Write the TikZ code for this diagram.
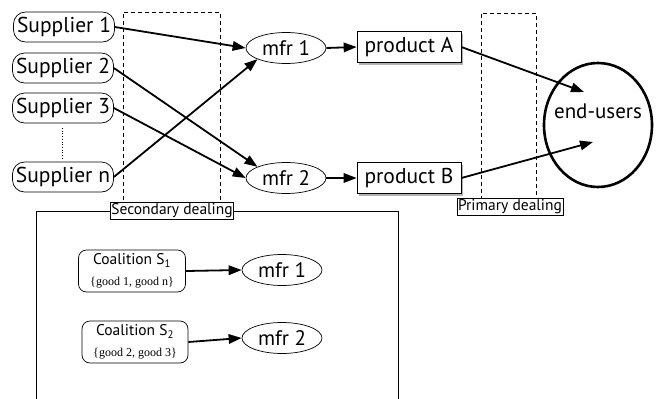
\documentclass[tikz,border=0pt]{standalone}
\usepackage{fontspec}
\setmainfont{PT Sans}
\newfontfamily\serifgood{Liberation Serif}
\usetikzlibrary{shapes.geometric,arrows.meta,shadows}
\begin{document}
\begin{tikzpicture}[x=1pt,y=-1pt,
  every node/.style={inner sep=0pt},
  supp/.style={draw,line width=0.7pt,rounded corners=12pt,minimum width=101pt,minimum height=30pt,font=\fontsize{21.5}{22}\selectfont},
  mfr/.style={draw,line width=0.7pt,ellipse,minimum width=80pt,minimum height=31pt,font=\fontsize{21}{22}\selectfont},
  prod/.style={draw,line width=0.7pt,fill=white,minimum width=104pt,minimum height=31pt,font=\fontsize{21.5}{22}\selectfont,
     drop shadow={shadow xshift=2pt,shadow yshift=-2pt,fill=gray!60,opacity=1}},
  coal/.style={draw,line width=0.7pt,rounded corners=8pt,minimum height=42pt,align=center,font=\fontsize{15.5}{17}\selectfont},
  dealbox/.style={draw,dash pattern=on 4pt off 3pt,line width=0.7pt},
  dlabel/.style={draw,fill=white,line width=0.6pt,inner xsep=1pt,inner ysep=1.5pt,font=\fontsize{15.5}{16}\selectfont},
  arr/.style={line width=1.8pt,-{Triangle[length=13pt,width=9.5pt]}}
]
\useasboundingbox (0,0) rectangle (659,399);
% dealing boxes
\draw[dealbox] (123,207) -- (123,12) -- (220,12) -- (220,207);
\draw[dealbox] (481,200) -- (481,13) -- (536,13) -- (536,200);
\draw[line width=0.7pt] (36,399) -- (36,211) -- (398,211) -- (398,399);
\node[dlabel] (sec) at (172,211) {Secondary dealing};
\node[dlabel] (pri) at (510,207) {Primary dealing};
% suppliers
\node[supp] (s1) at (64,27) {Supplier 1};
\node[supp] (s2) at (63,68) {Supplier 2};
\node[supp] (s3) at (63,108) {Supplier 3};
\node[supp] (sn) at (63,177) {Supplier n};
\coordinate (d1) at (62,128);
\coordinate (d2) at (62,158);
\draw[dotted,line width=0.7pt] (d1) -- (d2);
% manufacturers
\node[mfr] (m1) at (286,48) {mfr 1};
\node[mfr] (m2) at (286,178) {mfr 2};
\node[prod] (pa) at (409,47) {product A};
\node[prod] (pb) at (409,178) {product B};
% end users
\node[draw,ellipse,line width=2.6pt,minimum width=108pt,minimum height=124pt] (eu) at (598,125) {};
\node[font=\fontsize{21}{22}\selectfont] (eut) at (598,111) {end-users};
\coordinate (ea) at (584,92);
\coordinate (eb) at (593,142);
% arrows
\draw[arr] (s1.east) -- (m1.west);
\draw[arr] (sn.east) -- (m1.south west);
\draw[arr] (s2.east) -- (m2.north west);
\draw[arr] (s3.east) -- (m2.west);
\draw[arr] (m1.east) -- (pa.west);
\draw[arr] (m2.east) -- (pb.west);
\draw[arr] (pa.east) -- (ea);
\draw[arr] (pb.east) -- (eb);
% coalitions
\node[coal,minimum width=107pt] (c1) at (132,271) {Coalition S\textsubscript{1}\\[4pt]{\serifgood\fontsize{12}{12}\selectfont\{good 1, good n\}}};
\node[coal,minimum width=106pt] (c2) at (135,342) {Coalition S\textsubscript{2}\\[4pt]{\serifgood\fontsize{12}{12}\selectfont\{good 2, good 3\}}};
\node[mfr] (lm1) at (282,270) {mfr 1};
\node[mfr] (lm2) at (282,338) {mfr 2};
\draw[arr] (c1.east) -- (lm1.west);
\draw[arr] (c2.east) -- (lm2.west);
\end{tikzpicture}
\end{document}
